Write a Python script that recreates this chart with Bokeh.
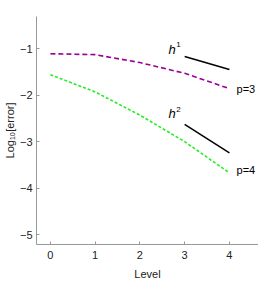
from bokeh.plotting import figure
from bokeh.models import Range1d, FixedTicker
from bokeh.core.properties import value
from bokeh.embed import file_html
from bokeh.resources import INLINE

levels = [0, 1, 2, 3, 4]
err_p3 = [-1.11, -1.13, -1.30, -1.53, -1.86]
err_p4 = [-1.56, -1.93, -2.43, -3.00, -3.67]
h1_x = [3, 4]
h1_y = [-1.17, -1.45]
h2_x = [3, 4]
h2_y = [-2.63, -3.24]
x_ticks = [0, 1, 2, 3, 4]
y_ticks = [-1, -2, -3, -4, -5]

FONT = "Liberation Sans"

p = figure(frame_width=222, frame_height=228, output_backend="svg", toolbar_location=None,
           x_range=Range1d(-0.31, 4.65), y_range=Range1d(-5.21, -0.31),
           min_border_left=0, min_border_right=0, min_border_top=16, min_border_bottom=0)
p.outline_line_color = None
p.grid.visible = False

p.line(levels, err_p3, line_color="#990099", line_width=1.6, line_dash="5 3")
p.line(levels, err_p4, line_color="#22ee22", line_width=1.6, line_dash="3 2")
p.line(h1_x, h1_y, line_color="black", line_width=1.5)
p.line(h2_x, h2_y, line_color="black", line_width=1.5)

p.text(x=[2.80], y=[-1.02], text=["h"], text_font=value(FONT), text_font_style="italic",
       text_font_size="13px", text_align="right", text_baseline="middle")
p.text(x=[2.81], y=[-0.92], text=["1"], text_font=value(FONT),
       text_font_size="8px", text_align="left", text_baseline="middle")
p.text(x=[2.80], y=[-2.40], text=["h"], text_font=value(FONT), text_font_style="italic",
       text_font_size="13px", text_align="right", text_baseline="middle")
p.text(x=[2.81], y=[-2.30], text=["2"], text_font=value(FONT),
       text_font_size="8px", text_align="left", text_baseline="middle")
p.text(x=[4.16, 4.16], y=[-1.86, -3.61], text=["p=3", "p=4"], text_font=value(FONT),
       text_font_size="11px", text_align="left", text_baseline="middle")

for ax in (p.xaxis[0], p.yaxis[0]):
    ax.axis_line_color = "#999999"
    ax.major_tick_line_color = "#999999"
    ax.major_tick_in = 3
    ax.major_tick_out = 0
    ax.minor_tick_line_color = None
    ax.major_label_text_font = FONT
    ax.major_label_text_font_size = "11px"
    ax.major_label_text_color = "#222222"
    ax.axis_label_text_font = FONT
    ax.axis_label_text_font_size = "11px"
    ax.axis_label_text_font_style = "normal"
    ax.axis_label_text_color = "#222222"

p.xaxis.ticker = FixedTicker(ticks=x_ticks)
p.yaxis.ticker = FixedTicker(ticks=y_ticks)
p.yaxis.major_label_overrides = {t: "\u2212" + str(abs(t)) for t in y_ticks}
p.xaxis.axis_label = "Level"
p.yaxis.axis_label = "Log\u2081\u2080[error]"
p.xaxis.major_label_standoff = 6
p.xaxis.axis_label_standoff = 6
p.yaxis.major_label_standoff = 4
p.yaxis.axis_label_standoff = 1

open("out.html", "w").write(file_html(p, INLINE))
